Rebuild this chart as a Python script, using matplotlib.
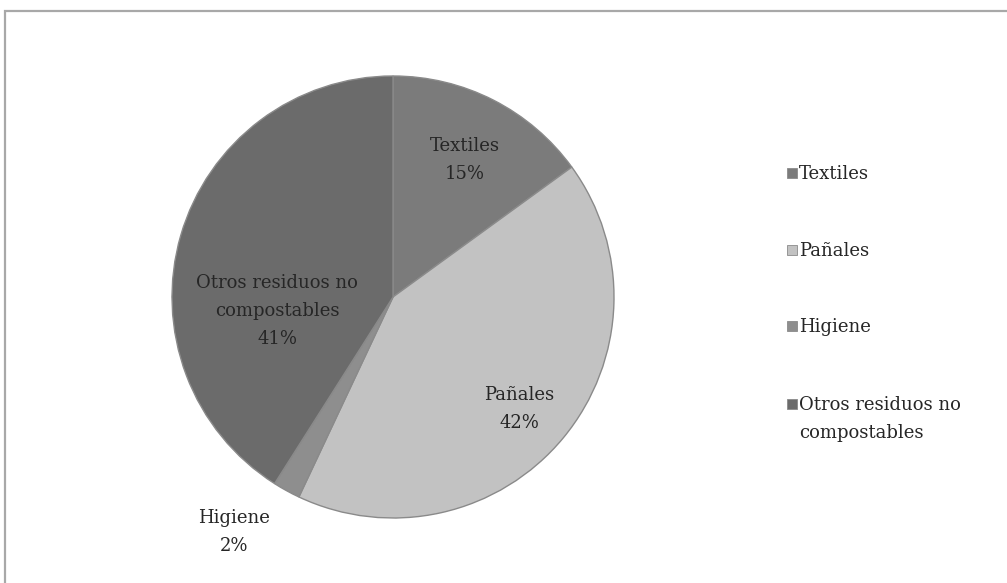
import matplotlib.pyplot as plt
from matplotlib.patches import Rectangle

labels = ["Textiles", "Pañales", "Higiene", "Otros residuos no\ncompostables"]
values = [15, 42, 2, 41]
colors = ["#7b7b7b", "#c2c2c2", "#8e8e8e", "#6b6b6b"]
# label anchor points (pixel coords of the picture, y from top)
label_xy = [(465, 160), (519, 409), (234, 532), (277, 311)]
legend_y = [173, 250, 326, 404]

W, H = 1007, 583
fig = plt.figure(figsize=(W / 100, H / 100), dpi=100)
ax = fig.add_axes([0, 0, 1, 1])
ax.axis("off")

font = "DejaVu Serif"
txt_col = "#262626"

# outer frame, runs off the right and bottom edges
ax.add_patch(Rectangle((4.5, -20), W + 20, H - 10.5 + 20, fill=False,
                       edgecolor="#a8a8a8", lw=1.6))

wedges, _ = ax.pie(values, colors=colors, startangle=90, counterclock=False,
                   center=(393, H - 297), radius=221,
                   wedgeprops=dict(edgecolor="#8a8a8a", linewidth=1.0))
ax.set_xlim(0, W)
ax.set_ylim(0, H)
ax.set_aspect("auto")

for lab, v, (x, y) in zip(labels, values, label_xy):
    ax.text(x, H - y, f"{lab}\n{v}%", ha="center", va="center",
            fontsize=13, family=font, color=txt_col, linespacing=1.75)

# legend drawn by hand so the marker sits on the first text line
for lab, c, y in zip(labels, colors, legend_y):
    ax.add_patch(Rectangle((787, H - y - 5), 10, 10, facecolor=c,
                           edgecolor="#8a8a8a", lw=0.6))
    ax.text(799, H - y + 8, lab, ha="left", va="top", fontsize=13,
            family=font, color=txt_col, linespacing=1.75)

fig.savefig("out.png", dpi=100)
